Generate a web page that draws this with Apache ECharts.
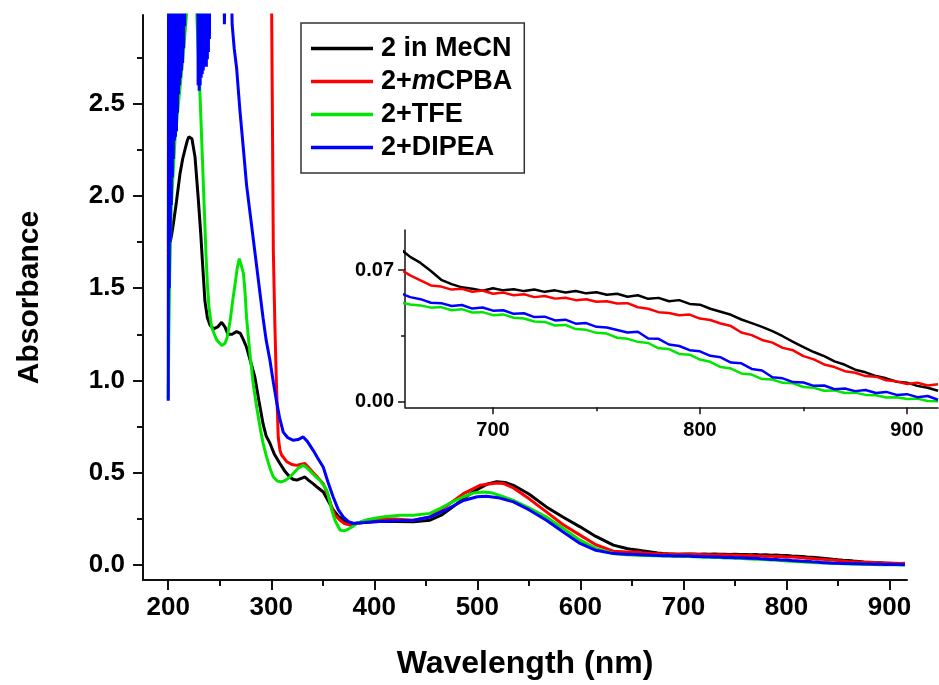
<!DOCTYPE html>
<html><head><meta charset="utf-8">
<script src="https://cdn.jsdelivr.net/npm/echarts@6/dist/echarts.min.js"></script>
<style>html,body{margin:0;padding:0;background:#fff}#c{width:939px;height:685px}</style>
</head><body><div id="c"></div>
<script>
// ---- Data ----
const seriesNames = ['2 in MeCN', '2+mCPBA', '2+TFE', '2+DIPEA'];
const seriesColors = ['#000000', '#ff0000', '#00e600', '#0000ff'];

const mainXLabels = [200, 300, 400, 500, 600, 700, 800, 900];
const mainXMinor = [250, 350, 450, 550, 650, 750, 850];
const mainYLabels = [0, 0.5, 1.0, 1.5, 2.0, 2.5];
const mainYMinor = [0.25, 0.75, 1.25, 1.75, 2.25, 2.75];
const insetXLabels = [700, 800, 900];
const insetXMinor = [750, 850];
const insetYLabels = [0, 0.07];
const insetYMinor = [0.035];

// UV / visible part of the spectra: [wavelength nm, absorbance]
const mecnUV = [[200,1.70],[203,1.78],[205,1.85],[208,1.97],[211.4,2.12],[214,2.20],[216.2,2.25],[218.5,2.30],[220,2.32],[221.5,2.33],[223,2.31],[226,2.21],[229.2,1.98],[231.5,1.80],[233,1.66],[235.6,1.43],[238,1.34],[240.5,1.30],[244,1.28],[248,1.29],[251.8,1.315],[255,1.29],[258,1.25],[262,1.25],[266.4,1.265],[270,1.255],[273,1.22],[276,1.18],[280,1.10],[284,1.02],[288,0.89],[292,0.766],[295,0.70],[298.7,0.66],[303,0.60],[308.4,0.55],[313,0.51],[318,0.477],[321,0.465],[324.7,0.46],[329,0.47],[332.7,0.477],[336,0.46],[340.8,0.44],[345,0.42],[350.5,0.396],[355,0.35],[360,0.30],[365,0.265],[370,0.243],[375,0.23],[379.7,0.225],[390,0.23],[399,0.234],[410,0.237],[420,0.236],[438,0.234],[454,0.243],[465,0.27],[475,0.31],[486.5,0.36],[500,0.41],[510,0.44],[518.8,0.452],[527,0.447],[535,0.432],[550,0.385],[567,0.315],[583,0.26],[599.7,0.207],[615,0.155],[632,0.108],[645,0.09],[650,0.085]];

const mcpbaUV = [[200,4.0],[299.5,4.0],[300.5,2.9],[302,1.7],[303.5,1.3],[305,0.98],[306.8,0.69],[308.5,0.62],[310,0.596],[315,0.56],[320,0.545],[324.7,0.54],[328,0.545],[332.7,0.55],[336,0.53],[340.8,0.50],[345,0.475],[350.5,0.44],[355,0.38],[358.6,0.315],[362,0.27],[366.7,0.243],[371,0.225],[376.4,0.216],[385,0.228],[392.6,0.243],[405.5,0.25],[420,0.25],[438,0.243],[454,0.26],[470,0.32],[486.5,0.387],[502.6,0.432],[518.8,0.445],[525,0.442],[535,0.418],[550,0.36],[567,0.288],[583,0.22],[599.7,0.162],[615,0.11],[632,0.075],[645,0.071],[650,0.071]];

const tfeUV = [[200,0.9],[200.5,1.22],[201.5,1.6],[203,1.95],[205,2.15],[206.5,2.3],[209,2.45],[212,2.62],[215,2.8],[218,3.0],[221,3.3],[224,3.3],[227.6,3.0],[229,2.8],[230.8,2.55],[232.5,2.3],[234.5,2.0],[236.5,1.70],[238,1.52],[239.5,1.40],[242,1.29],[247,1.22],[252,1.19],[255,1.20],[257,1.23],[260,1.32],[262.5,1.43],[264.8,1.52],[267,1.61],[269,1.66],[270.5,1.65],[273,1.58],[274.5,1.48],[276,1.34],[279,1.16],[282.5,0.98],[286,0.85],[289,0.75],[292,0.66],[295.5,0.585],[299,0.52],[302,0.477],[306,0.455],[310,0.45],[314,0.46],[318,0.477],[322,0.50],[326,0.525],[331,0.54],[334,0.53],[337.6,0.51],[342,0.485],[347,0.46],[351,0.43],[354,0.405],[356.5,0.35],[358.6,0.30],[362,0.24],[366.7,0.19],[370,0.185],[373,0.19],[378,0.205],[383,0.225],[390,0.24],[399,0.252],[410,0.262],[425,0.27],[438,0.27],[454,0.28],[465,0.31],[475,0.34],[486.5,0.37],[496,0.39],[506,0.396],[515,0.39],[525,0.37],[535,0.35],[550,0.31],[567,0.26],[583,0.20],[599.7,0.135],[615,0.09],[632,0.063],[645,0.056],[650,0.054]];

const dipeaUV = [[200,0.89],[200.2,2.6],[200.5,4.0],[201,1.5],[201.5,4.0],[202,1.75],[202.5,4.0],[203,1.95],[203.5,4.0],[204,2.1],[204.5,4.0],[205,2.2],[205.5,4.0],[206,2.3],[206.5,4.0],[207,2.32],[207.5,4.0],[208,2.35],[208.5,4.0],[209,2.45],[209.5,4.0],[210,2.55],[210.5,4.0],[211,2.6],[211.5,4.0],[212,2.64],[212.5,4.0],[213,2.68],[213.5,4.0],[214,2.72],[214.5,4.0],[215,2.8],[215.5,4.0],[216,2.92],[216.5,4.0],[222,4.2],[228.5,4.0],[229,2.6],[229.5,4.0],[230,2.57],[230.5,4.0],[231,2.6],[231.5,4.0],[232,2.64],[232.5,4.0],[233,2.66],[233.5,4.0],[234,2.68],[234.5,4.0],[235,2.7],[235.5,4.0],[236,2.72],[236.5,4.0],[237,2.7],[237.5,4.0],[238,2.74],[238.5,4.0],[239,2.78],[239.5,4.0],[240,2.85],[240.5,4.0],[248,4.2],[253.5,3.6],[254.5,2.93],[255.5,2.93],[256.5,3.6],[259,4.0],[261,3.3],[262,2.93],[264,2.8],[266.4,2.69],[269.6,2.46],[273,2.25],[276,2.06],[280,1.88],[284,1.70],[288,1.52],[292,1.34],[295,1.22],[298.7,1.11],[302,0.99],[305,0.89],[308,0.80],[311.6,0.72],[316,0.69],[321.4,0.676],[326,0.68],[331,0.694],[335,0.67],[340.8,0.62],[345,0.58],[350.5,0.53],[355,0.45],[360,0.37],[365,0.30],[370,0.26],[375,0.235],[379.7,0.225],[390,0.23],[400,0.235],[420,0.24],[438,0.243],[454,0.26],[470,0.30],[486.5,0.35],[500,0.37],[509,0.373],[520,0.365],[535,0.342],[550,0.30],[567,0.243],[583,0.18],[599.7,0.117],[615,0.08],[632,0.062],[645,0.059],[650,0.058]];

// Near-IR tail (shown enlarged in the inset)
const tailNm = [655,660,665,670,675,680,685,690,695,700,705,710,715,720,725,730,735,740,745,750,755,760,765,770,775,780,785,790,795,800,805,810,815,820,825,830,835,840,845,850,855,860,865,870,875,880,885,890,895,900,905,910,915];
const mecnTail = [0.0815,0.0770,0.0738,0.0695,0.0648,0.0625,0.0608,0.0601,0.0590,0.0603,0.0592,0.0598,0.0588,0.0597,0.0584,0.0592,0.0581,0.0589,0.0576,0.0582,0.0569,0.0574,0.0558,0.0566,0.0547,0.0552,0.0534,0.0540,0.0520,0.0516,0.0494,0.0478,0.0462,0.0437,0.0418,0.0398,0.0375,0.0348,0.0318,0.0290,0.0264,0.0242,0.0214,0.0196,0.0170,0.0156,0.0136,0.0124,0.0106,0.0101,0.0084,0.0074,0.0058];
const mcpbaTail = [0.0705,0.0672,0.0645,0.0618,0.0612,0.0596,0.0600,0.0585,0.0591,0.0574,0.0580,0.0566,0.0571,0.0556,0.0562,0.0548,0.0553,0.0540,0.0545,0.0531,0.0534,0.0522,0.0524,0.0502,0.0494,0.0476,0.0472,0.0460,0.0463,0.0442,0.0434,0.0416,0.0402,0.0368,0.0354,0.0328,0.0314,0.0286,0.0273,0.0242,0.0225,0.0198,0.0184,0.0162,0.0154,0.0136,0.0133,0.0114,0.0108,0.0094,0.0101,0.0086,0.0092];
const tfeTail = [0.0528,0.0517,0.0512,0.0500,0.0503,0.0486,0.0492,0.0474,0.0476,0.0460,0.0464,0.0446,0.0442,0.0426,0.0424,0.0405,0.0408,0.0386,0.0382,0.0366,0.0362,0.0340,0.0334,0.0318,0.0312,0.0284,0.0280,0.0254,0.0250,0.0224,0.0212,0.0184,0.0176,0.0150,0.0144,0.0120,0.0118,0.0100,0.0098,0.0078,0.0074,0.0058,0.0060,0.0046,0.0048,0.0036,0.0034,0.0022,0.0024,0.0014,0.0016,0.0004,0.0002];
const dipeaTail = [0.0578,0.0556,0.0545,0.0526,0.0524,0.0509,0.0514,0.0495,0.0501,0.0484,0.0486,0.0467,0.0470,0.0450,0.0452,0.0432,0.0436,0.0415,0.0418,0.0398,0.0394,0.0381,0.0368,0.0372,0.0336,0.0334,0.0304,0.0296,0.0274,0.0268,0.0244,0.0236,0.0208,0.0204,0.0174,0.0166,0.0130,0.0124,0.0104,0.0102,0.0084,0.0086,0.0066,0.0070,0.0056,0.0062,0.0046,0.0052,0.0036,0.0040,0.0024,0.0030,0.0010];

// ---- Chart ----
const FONT = "'Liberation Sans', Arial, Helvetica, sans-serif";
const uvs = [mecnUV, mcpbaUV, tfeUV, dipeaUV];
const tails = [mecnTail, mcpbaTail, tfeTail, dipeaTail];
const full = uvs.map((uv, k) => uv.concat(tailNm.map((x, i) => [x, tails[k][i]])));

function axisPair(opts) {
  const major = {
    type: 'value', gridIndex: opts.grid, min: opts.min, max: opts.max,
    position: opts.position,
    axisLine: { show: true, onZero: false, lineStyle: { color: '#111', width: opts.lw } },
    axisTick: { show: true, inside: false, customValues: opts.labels, length: opts.tickLen, lineStyle: { color: '#111', width: opts.lw } },
    axisLabel: { show: true, customValues: opts.labels, formatter: opts.fmt, margin: opts.margin,
      color: '#000', fontSize: opts.fs, fontWeight: 'bold', fontFamily: FONT },
    splitLine: { show: false }
  };
  if (opts.name) {
    Object.assign(major, { name: opts.name, nameLocation: 'middle', nameGap: opts.nameGap,
      nameTextStyle: { color: '#000', fontSize: opts.nfs, fontWeight: 'bold', fontFamily: FONT } });
  }
  const minor = {
    type: 'value', gridIndex: opts.grid, min: opts.min, max: opts.max, position: opts.position,
    axisLine: { show: false, onZero: false },
    axisTick: { show: true, inside: false, customValues: opts.minor, length: opts.minorLen, lineStyle: { color: '#111', width: opts.lw } },
    axisLabel: { show: false },
    splitLine: { show: false }
  };
  return [major, minor];
}

const mainX = axisPair({ grid: 0, min: 175.5, max: 917, position: 'bottom', lw: 2, labels: mainXLabels, minor: mainXMinor,
  tickLen: 10, minorLen: 6, margin: 15, fs: 26, fmt: v => String(v), name: 'Wavelength (nm)', nameGap: 68, nfs: 32 });
const mainY = axisPair({ grid: 0, min: -0.081, max: 2.98, position: 'left', lw: 2, labels: mainYLabels, minor: mainYMinor,
  tickLen: 10, minorLen: 6, margin: 18, fs: 26, fmt: v => Number(v).toFixed(1), name: 'Absorbance', nameGap: 98, nfs: 30 });
const insX = axisPair({ grid: 1, min: 657.5, max: 915, position: 'bottom', lw: 1.5, labels: insetXLabels, minor: insetXMinor,
  tickLen: 7, minorLen: 4, margin: 13, fs: 20, fmt: v => String(v) });
const insY = axisPair({ grid: 1, min: -0.003, max: 0.0913, position: 'left', lw: 1.5, labels: insetYLabels, minor: insetYMinor,
  tickLen: 7, minorLen: 4, margin: 11, fs: 20, fmt: v => Number(v).toFixed(2) });

const series = [];
seriesNames.forEach((name, k) => {
  series.push({ name, type: 'line', xAxisIndex: 0, yAxisIndex: 0, data: full[k], showSymbol: false, symbol: 'none',
    clip: true, lineStyle: { color: seriesColors[k], width: 3 }, itemStyle: { color: seriesColors[k] }, z: 2 + k });
});
seriesNames.forEach((name, k) => {
  series.push({ name, type: 'line', xAxisIndex: 2, yAxisIndex: 2, data: full[k], showSymbol: false, symbol: 'none',
    clip: true, lineStyle: { color: seriesColors[k], width: 2.5 }, itemStyle: { color: seriesColors[k] }, z: 2 + k });
});

const chart = echarts.init(document.getElementById('c'), null, { renderer: 'canvas' });
chart.setOption({
  animation: false,
  backgroundColor: '#ffffff',
  grid: [
    { left: 143, top: 15, right: 32, bottom: 105 },
    { left: 405, top: 230, right: 1, bottom: 277.7 }
  ],
  xAxis: [mainX[0], mainX[1], insX[0], insX[1]],
  yAxis: [mainY[0], mainY[1], insY[0], insY[1]],
  legend: {
    data: seriesNames, orient: 'vertical', left: 301, top: 23,
    padding: [12, 12, 12, 10], itemGap: 6, itemWidth: 62, itemHeight: 3.5, icon: 'rect',
    borderColor: '#333', borderWidth: 1.5, backgroundColor: '#fff',
    selectedMode: false,
    formatter: n => n === '2+mCPBA' ? '2+{i|m}CPBA' : n,
    textStyle: { color: '#000', fontSize: 27, fontWeight: 'bold', fontFamily: FONT, padding: [0, 0, 0, 3],
      rich: { i: { fontStyle: 'italic', fontWeight: 'bold', fontSize: 27, fontFamily: FONT, color: '#000' } } }
  },
  series
});
</script></body></html>
